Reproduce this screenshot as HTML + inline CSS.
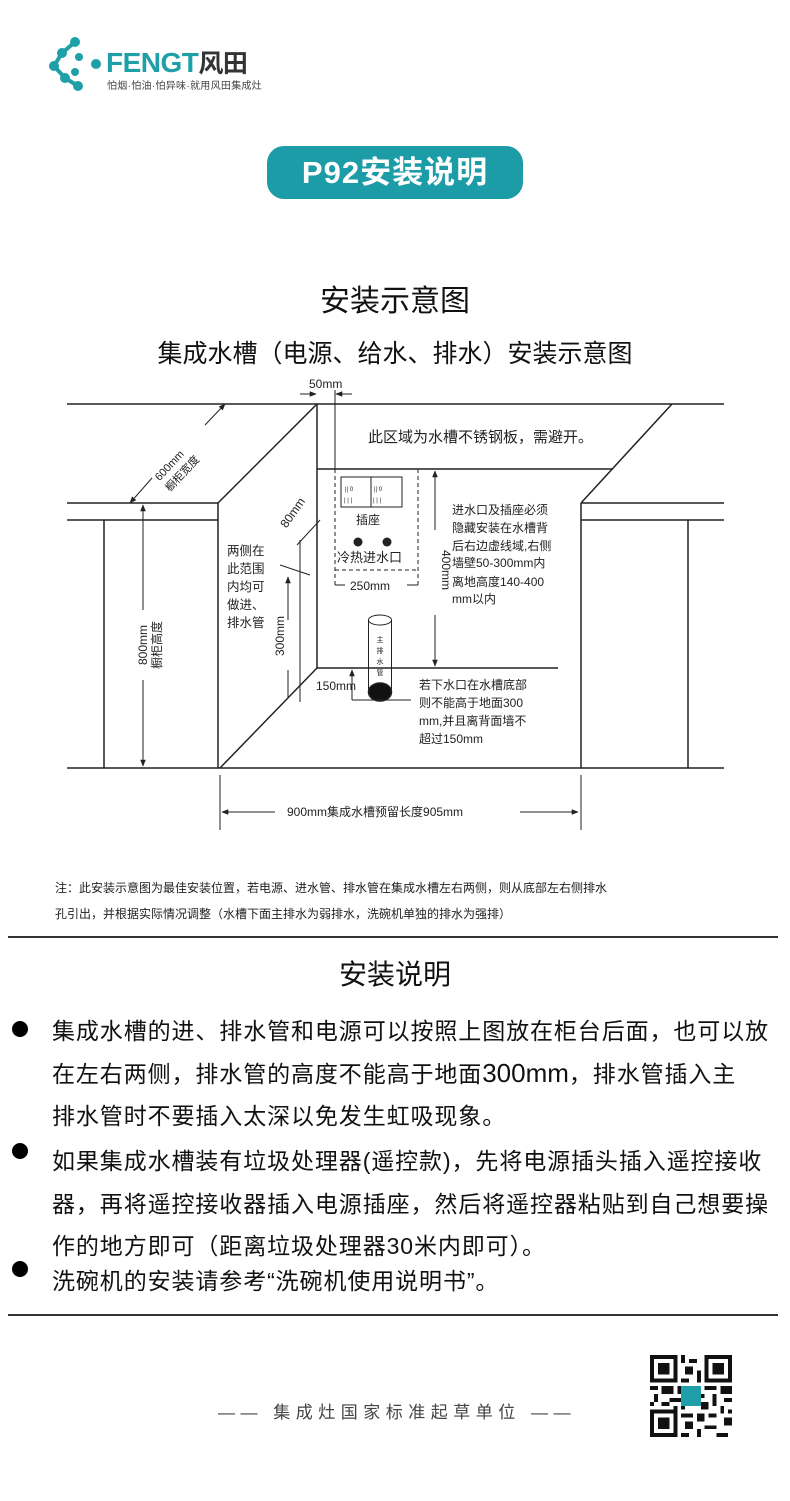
<!DOCTYPE html>
<html><head><meta charset="utf-8"><style>
*{margin:0;padding:0;box-sizing:border-box}
body{width:790px;height:1501px;background:#fff;position:relative;overflow:hidden;font-family:"Liberation Sans","Noto Sans CJK SC",sans-serif;color:#111}
.a{position:absolute;white-space:nowrap}
.l{position:absolute;left:52px;font-size:23px;letter-spacing:0.9px;white-space:nowrap;color:#111}
.b{position:absolute;left:12px;width:16px;height:16px;border-radius:50%;background:#000}
</style></head><body>
<!-- logo -->
<svg class="a" style="left:48px;top:36px" width="58" height="56" viewBox="0 0 58 56">
<g fill="#1fa0a8"><circle cx="27" cy="6" r="5"/><circle cx="14" cy="17" r="5"/><circle cx="6" cy="30" r="5"/><circle cx="17" cy="42" r="5"/><circle cx="30" cy="50" r="5"/><circle cx="31" cy="21" r="4"/><circle cx="27" cy="36" r="4"/><circle cx="48" cy="28" r="5"/></g>
<g stroke="#1fa0a8" stroke-width="4"><line x1="27" y1="6" x2="14" y2="17"/><line x1="14" y1="17" x2="6" y2="30"/><line x1="6" y1="30" x2="17" y2="42"/><line x1="17" y1="42" x2="30" y2="50"/></g></svg>
<div class="a" style="left:106px;top:44px;font-size:28px;font-weight:bold;color:#1fa0a8;letter-spacing:-0.5px">FENGT<span style="color:#333;font-size:25px">风田</span></div>
<div class="a" style="left:107px;top:77px;font-size:10px;color:#444;letter-spacing:0.3px">怕烟·怕油·怕异味·就用风田集成灶</div>
<!-- badge -->
<div class="a" style="left:267px;top:146px;width:256px;height:53px;border-radius:17px;background:#1c9ca6;color:#fff;font-size:31px;font-weight:bold;text-align:center;line-height:53px;letter-spacing:1px">P92安装说明</div>
<div class="a" style="left:0;width:790px;text-align:center;top:276px;font-size:30px;color:#111">安装示意图</div>
<div class="a" style="left:0;width:790px;text-align:center;top:334px;font-size:25px;color:#111">集成水槽（电源、给水、排水）安装示意图</div>
<!-- diagram -->
<svg class="a" style="left:0;top:0" width="790" height="860" viewBox="0 0 790 860" font-family="Liberation Sans,Noto Sans CJK SC,sans-serif" fill="none" stroke="#222" stroke-width="1.5">
<defs><marker id="ar" viewBox="0 0 10 10" refX="9" refY="5" markerWidth="7" markerHeight="7" orient="auto-start-reverse"><path d="M0,1L10,5L0,9z" fill="#222" stroke="none"/></marker></defs>
<line x1="67" y1="404" x2="724" y2="404"/>
<line x1="67" y1="503" x2="218" y2="503"/><line x1="67" y1="520" x2="218" y2="520"/>
<line x1="581" y1="503" x2="724" y2="503"/><line x1="581" y1="520" x2="724" y2="520"/>
<line x1="67" y1="768" x2="724" y2="768"/>
<line x1="104" y1="520" x2="104" y2="768"/><line x1="688" y1="520" x2="688" y2="768"/>
<line x1="317" y1="404" x2="218" y2="503"/>
<line x1="218" y1="503" x2="218" y2="768"/>
<line x1="581" y1="503" x2="581" y2="768"/>
<line x1="317" y1="404" x2="317" y2="668"/>
<line x1="317" y1="668" x2="220" y2="768"/>
<line x1="317" y1="668" x2="558" y2="668"/>
<line x1="317" y1="469" x2="613" y2="469"/>
<line x1="672" y1="404" x2="581" y2="503"/>
<line x1="613" y1="469" x2="581" y2="503" stroke="none"/>
<!-- 50mm -->
<line x1="335" y1="390" x2="335" y2="469" stroke-width="1"/>
<line x1="300" y1="394" x2="316" y2="394" stroke-width="1" marker-end="url(#ar)"/>
<line x1="352" y1="394" x2="336" y2="394" stroke-width="1" marker-end="url(#ar)"/>
<!-- 600mm -->
<line x1="130" y1="503" x2="152" y2="478" stroke-width="1" marker-start="url(#ar)"/>
<line x1="205" y1="425" x2="225" y2="404" stroke-width="1" marker-end="url(#ar)"/>
<!-- 800mm -->
<line x1="143" y1="505" x2="143" y2="610" stroke-width="1" marker-start="url(#ar)"/>
<line x1="143" y1="680" x2="143" y2="766" stroke-width="1" marker-end="url(#ar)"/>
<!-- socket -->
<rect x="341" y="477" width="61" height="30" stroke-width="1"/>
<line x1="371" y1="477" x2="371" y2="507" stroke-width="1"/>
<g fill="#222" stroke="none"><circle cx="358" cy="542" r="4.5"/><circle cx="387" cy="542" r="4.5"/></g>
<g stroke-width="1" stroke-dasharray="4,3"><line x1="335" y1="469" x2="335" y2="587"/><line x1="418" y1="469" x2="418" y2="587"/><line x1="335" y1="570" x2="418" y2="570"/></g>
<line x1="335" y1="585" x2="345" y2="585" stroke-width="1"/><line x1="407" y1="585" x2="418" y2="585" stroke-width="1"/>
<!-- 400mm -->
<line x1="435" y1="530" x2="435" y2="471" stroke-width="1" marker-end="url(#ar)"/>
<line x1="435" y1="615" x2="435" y2="666" stroke-width="1" marker-end="url(#ar)"/>
<!-- 80mm & 300mm -->
<line x1="297" y1="545" x2="320" y2="520" stroke-width="1"/>
<line x1="280" y1="565" x2="310" y2="575" stroke-width="1"/>
<line x1="300" y1="540" x2="300" y2="702" stroke-width="1"/>
<line x1="288" y1="620" x2="288" y2="577" stroke-width="1" marker-end="url(#ar)"/>
<line x1="288" y1="670" x2="288" y2="697" stroke-width="1"/>
<!-- pipe -->
<ellipse cx="380" cy="620" rx="11.5" ry="5" stroke-width="1"/>
<line x1="368.5" y1="620" x2="368.5" y2="692" stroke-width="1"/><line x1="391.5" y1="620" x2="391.5" y2="692" stroke-width="1"/>
<ellipse cx="380" cy="692" rx="11.5" ry="9" fill="#111"/>
<line x1="352" y1="700" x2="411" y2="700" stroke-width="1"/>
<line x1="352" y1="700" x2="352" y2="670" stroke-width="1" marker-end="url(#ar)"/>
<!-- 900mm -->
<line x1="220" y1="775" x2="220" y2="830" stroke-width="1"/><line x1="581" y1="775" x2="581" y2="830" stroke-width="1"/>
<line x1="275" y1="812" x2="222" y2="812" stroke-width="1" marker-end="url(#ar)"/>
<line x1="520" y1="812" x2="578" y2="812" stroke-width="1" marker-end="url(#ar)"/>
<g fill="#222" stroke="none" font-size="12">
<text x="309" y="388" font-size="12">50mm</text>
<text x="368" y="442" font-size="15">此区域为水槽不锈钢板，需避开。</text>
<text transform="translate(172,468) rotate(-47)" font-size="11" text-anchor="middle">600mm</text>
<text transform="translate(185,476) rotate(-47)" font-size="11" text-anchor="middle">橱柜宽度</text>
<text transform="translate(147,645) rotate(-90)" font-size="12" text-anchor="middle">800mm</text>
<text transform="translate(161,645) rotate(-90)" font-size="12" text-anchor="middle">橱柜高度</text>
<g font-size="6"><text x="345" y="491">|| 0</text><text x="374" y="491">|| 0</text><text x="344" y="502">| | |</text><text x="373" y="502">| | |</text></g>
<text x="356" y="524" font-size="12">插座</text>
<text x="337" y="562" font-size="13">冷热进水口</text>
<text x="350" y="590" font-size="12">250mm</text>
<text transform="translate(442,570) rotate(90)" font-size="12" text-anchor="middle">400mm</text>
<text transform="translate(296,515) rotate(-55)" font-size="12" text-anchor="middle">80mm</text>
<text transform="translate(284,636) rotate(-90)" font-size="12" text-anchor="middle">300mm</text>
<g font-size="12.5"><text x="227" y="555">两侧在</text><text x="227" y="573">此范围</text><text x="227" y="591">内均可</text><text x="227" y="609">做进、</text><text x="227" y="627">排水管</text></g>
<g font-size="12"><text x="452" y="514">进水口及插座必须</text><text x="452" y="532">隐藏安装在水槽背</text><text x="452" y="550">后右边虚线域,右侧</text><text x="452" y="567">墙壁50-300mm内</text><text x="452" y="586">离地高度140-400</text><text x="452" y="603">mm以内</text></g>
<g font-size="7" text-anchor="middle"><text x="380" y="642">主</text><text x="380" y="653">排</text><text x="380" y="664">水</text><text x="380" y="675">管</text></g>
<text x="316" y="690" font-size="12">150mm</text>
<g font-size="12"><text x="419" y="689">若下水口在水槽底部</text><text x="419" y="707">则不能高于地面300</text><text x="419" y="725">mm,并且离背面墙不</text><text x="419" y="743">超过150mm</text></g>
<text x="287" y="816" font-size="12">900mm集成水槽预留长度905mm</text>
</g>
</svg>
<div class="a" style="left:55px;top:879px;font-size:12px;color:#222">注：此安装示意图为最佳安装位置，若电源、进水管、排水管在集成水槽左右两侧，则从底部左右侧排水</div>
<div class="a" style="left:55px;top:905px;font-size:12px;color:#222">孔引出，并根据实际情况调整（水槽下面主排水为弱排水，洗碗机单独的排水为强排）</div>
<div class="a" style="left:8px;top:936px;width:770px;height:2px;background:#333"></div>
<div class="a" style="left:0;width:790px;text-align:center;top:953px;font-size:28px">安装说明</div>
<div class="b" style="top:1021px"></div>
<div class="l" style="top:1012px">集成水槽的进、排水管和电源可以按照上图放在柜台后面，也可以放</div>
<div class="l" style="top:1055px">在左右两侧，排水管的高度不能高于地面<span style="font-size:26px;letter-spacing:0">300mm</span>，排水管插入主</div>
<div class="l" style="top:1097px">排水管时不要插入太深以免发生虹吸现象。</div>
<div class="b" style="top:1143px"></div>
<div class="l" style="top:1142px">如果集成水槽装有垃圾处理器(遥控款)，先将电源插头插入遥控接收</div>
<div class="l" style="top:1185px">器，再将遥控接收器插入电源插座，然后将遥控器粘贴到自己想要操</div>
<div class="l" style="top:1227px">作的地方即可（距离垃圾处理器30米内即可）。</div>
<div class="b" style="top:1261px"></div>
<div class="l" style="top:1262px">洗碗机的安装请参考“洗碗机使用说明书”。</div>
<div class="a" style="left:8px;top:1314px;width:770px;height:2px;background:#333"></div>
<div class="a" style="left:218px;top:1398px;font-size:17px;color:#444;letter-spacing:5.5px">—— 集成灶国家标准起草单位 ——</div>
<svg class="a" style="left:650px;top:1355px" width="82" height="82" viewBox="0 0 21 21" shape-rendering="crispEdges">
<g fill="#111">
<path d="M0 0h7v7H0zM14 0h7v7h-7zM0 14h7v7H0z"/>
</g>
<g fill="#fff"><path d="M1 1h5v5H1zM15 1h5v5h-5zM1 15h5v5H1z"/></g>
<g fill="#111"><path d="M2 2h3v3H2zM16 2h3v3h-3zM2 16h3v3H2z"/>
<path d="M8 0h1v2H8zM10 1h2v1h-2zM9 3h2v2H9zM12 4h1v3h-1zM8 6h2v1H8zM0 8h2v1H0zM3 8h3v2H3zM7 8h2v2H7zM10 8h1v1h-1zM14 8h3v1h-3zM18 8h3v2h-3zM1 10h1v2H1zM5 11h3v1H5zM12 10h2v1h-2zM16 10h1v3h-1zM19 11h2v1h-2zM0 12h1v1H0zM3 12h2v1H3zM8 12h1v2H8zM13 12h2v2h-2zM18 13h1v2h-1zM8 15h3v1H8zM12 15h2v2h-2zM15 15h2v1h-2zM19 16h2v2h-2zM9 17h2v2H9zM14 18h3v1h-3zM8 20h2v1H8zM12 19h1v2h-1zM17 20h3v1h-3zM10 10h1v1h-1zM6 13h1v1H6zM20 14h1v1h-1z"/></g>
<rect x="8" y="8" width="5" height="5" fill="#1fa0a8"/>
</svg>
</body></html>
